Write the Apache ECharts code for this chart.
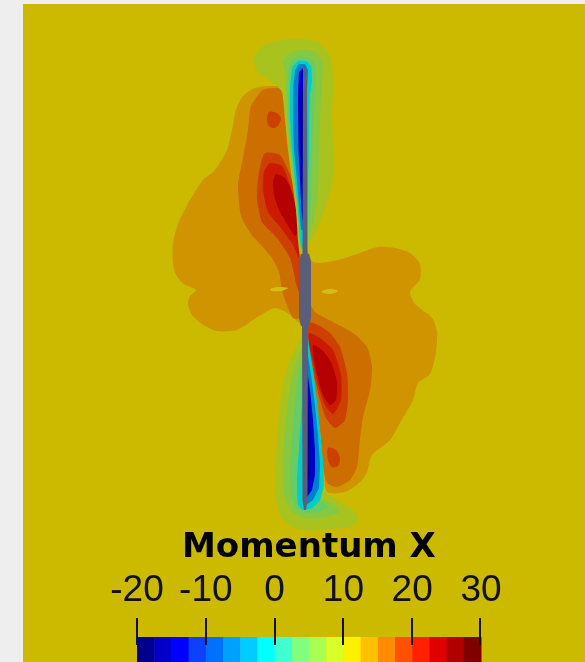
<!DOCTYPE html>
<html><head><meta charset="utf-8">
<script src="https://cdn.jsdelivr.net/npm/echarts@6/dist/echarts.min.js"></script>
<style>html,body{margin:0;padding:0;background:#eeeeee;}#c{width:585px;height:662px;}</style>
</head><body><div id="c"></div>
<script>
// ---- colour bar data ----
const barTitle = 'Momentum X';
const barTicks = [-20, -10, 0, 10, 20, 30];
const barEdges = [-20,-17.5,-15,-12.5,-10,-7.5,-5,-2.5,0,2.5,5,7.5,10,12.5,15,17.5,20,22.5,25,27.5,30];
const barColors = ['#00008c','#0000c8','#0000ff','#1040ff','#0070ff','#00a0ff','#00ccff','#00ffff','#40ffd0','#80ff80',
                   '#a8ff50','#d8ff28','#fff000','#ffc000','#ff8c00','#ff5000','#ff2000','#e00000','#b00000','#800000'];
// shaded field colour for each band index (1..20) + blade
const fieldColors = {1:'#000070',2:'#0000a0',3:'#0000cc',6:'#0080cc',8:'#00cccc',10:'#66cc66',11:'#86c840',12:'#a9c31e',
                     13:'#cbba00',14:'#cf9400',15:'#cc6e00',16:'#cc4000',17:'#cc1a00',18:'#b40000',blade:'#5a5e78',slit:'#d3be12'};

// ---- contour outlines (field domain units) ----
const lvl14Lobes = [[283,88],[270,86],[255,88],[243,96],[236,110],[232,130],[227,150],[215,170],[203,180],[195,192],[186,207],[178,224],[173,243],[173,263],[176,275],[184,284],[196,290],[190,296],[188,304],[192,315],[202,324],[217,331],[237,330],[256,318],[275,308],[289,314],[298,322],[306,330],[308,345],[314,390],[320,430],[324,470],[327,492],[345,492],[360,482],[367,472],[372,455],[390,440],[401,421],[413,400],[418,383],[430,374],[436,352],[437,332],[432,318],[415,304],[410,292],[420,279],[420,264],[410,253],[395,248],[378,247],[360,253],[345,258],[328,262],[313,262],[307,250],[300,250],[298,200],[293,150],[288,110]];
const lvl15Upper = [[263,90],[281,89],[287,110],[292,150],[296,200],[299,240],[300,262],[299,318],[293,318],[287,305],[282,290],[279,272],[272,258],[262,246],[251,234],[241,216],[238,185],[243,158],[248,130],[251,106]];
const lvl15Lower = [[306,298],[315,312],[333,322],[353,333],[367,347],[372,367],[370,390],[363,417],[360,440],[357,467],[350,480],[337,487],[327,483],[323,467],[320,430],[315,400],[310,370],[307,340]];
const lvl16Upper = [[265,153],[280,155],[290,175],[297,200],[299,230],[300,262],[299,292],[296,283],[290,258],[277,238],[262,222],[257,198],[259,172]];
const lvl16BlobUpper = [[269,112],[277,113],[281,118],[279,124],[275,128],[270,127],[267,121]];
const lvl16Lower = [[307,322],[318,325],[330,333],[340,347],[347,373],[348,397],[345,420],[335,428],[326,418],[320,400],[315,380],[310,355],[307,340]];
const lvl16BlobLower = [[328,448],[336,450],[340,458],[338,466],[332,467],[328,460]];
const lvl17Upper = [[270,163],[282,166],[290,185],[296,210],[299,240],[299,258],[293,245],[281,228],[268,212],[263,190],[264,172]];
const lvl17Lower = [[309,333],[320,338],[333,350],[341,375],[341,400],[333,414],[325,405],[318,385],[313,362],[309,345]];
const lvl18Upper = [[276,174],[285,178],[292,192],[296,210],[298,232],[295,236],[287,224],[279,210],[274,195],[273,182]];
const lvl18Lower = [[313,345],[322,350],[331,362],[337,382],[336,400],[330,405],[323,395],[318,378],[314,360]];

const lvl12Upper = [[256,70],[254,58],[260,48],[272,42],[288,39],[304,39],[318,43],[327,51],[332,63],[333,85],[332,115],[333,145],[334,168],[330,192],[324,212],[317,229],[311,241],[306,249],[303,252],[300,255],[298,240],[296,210],[292,180],[288,150],[285,120],[282,92],[275,84],[265,77]];
const lvl11Upper = [[283,60],[292,52],[305,49],[317,53],[323,62],[322,85],[320,120],[319,160],[318,195],[314,220],[309,237],[305,246],[300,250],[298,225],[294,190],[290,155],[287,120],[286,90],[285,72]];
const lvl10Upper = [[289,64],[296,57],[307,57],[314,62],[316,72],[315,95],[313,130],[312,170],[311,200],[308,225],[305,242],[301,245],[299,220],[295,185],[291,150],[288,118],[288,90]];
const lvl8Upper = [[292,68],[298,61],[306,61],[311,66],[312,80],[310,95],[309,140],[308,190],[307,215],[305,235],[302,250],[300,240],[298,210],[295,180],[292,150],[290,120],[290,90]];
const lvl6Upper = [[295,70],[299,64],[305,64],[308,70],[307,90],[303,110],[303,230],[301,230],[299,205],[297,180],[294,150],[293,120],[293,90]];
const lvl3Upper = [[299,72],[303,68],[306,70],[305,80],[303,90],[303,222],[301.5,210],[300,180],[298.5,150],[298,120],[298,90]];
const lvl2Upper = [[300.5,95],[303,90],[303,195],[301.5,180],[300.5,150]];

const lvl12Lower = [[303,335],[297,345],[289,362],[283,385],[279,415],[277,445],[275,475],[276,500],[281,517],[292,527],[310,531],[330,529],[350,527],[358,522],[355,512],[345,505],[333,497],[325,492],[322,470],[318,430],[312,390],[308,350]];
const lvl11Lower = [[303,345],[297,360],[291,380],[287,410],[284,440],[283,470],[284,495],[290,510],[300,517],[315,519],[330,516],[340,512],[334,505],[325,500],[318,495],[315,470],[313,440],[310,400],[307,360]];
const lvl10Lower = [[303,355],[299,375],[295,405],[292,440],[290,470],[291,495],[296,508],[305,513],[318,512],[328,507],[320,500],[317,480],[315,450],[312,420],[309,390],[306,365]];
const lvl8Lower = [[307,330],[309,345],[313,370],[317,400],[320,430],[323,460],[324,485],[320,500],[312,508],[303,510],[298,505],[297,480],[299,450],[301,420],[303,380]];
const lvl6Lower = [[307,350],[311,375],[315,405],[318,435],[320,465],[319,488],[313,500],[306,505],[303,505],[303,350]];
const lvl3Lower = [[307,370],[310,390],[313,420],[315,450],[315,475],[312,490],[307,497],[303,497],[303,370]];
const lvl2Lower = [[307,400],[310,420],[311,450],[310,475],[307,485]];

const bladeUpper = [[303,67],[306,67],[307,80],[307.5,254],[302.5,254],[303,80]];
const hub = [[299,262],[301,254],[309,254],[311,262],[311,318],[309,326],[301,326],[299,318]];
const bladeLower = [[302,325],[308,325],[307.5,500],[306,510],[304,510],[302.5,500]];
const slitLeft = [[270,289],[278,287],[288,288],[281,291],[272,291]];
const slitRight = [[322,291],[330,289],[338,291],[331,294],[323,293]];

// draw order (key, outline, smoothing)
const contours = [
  [14, lvl14Lobes, 0.25],
  [15, lvl15Upper, 0.2], [15, lvl15Lower, 0.2],
  [16, lvl16Upper, 0.2], [16, lvl16BlobUpper, 0.3], [16, lvl16Lower, 0.2], [16, lvl16BlobLower, 0.3],
  [17, lvl17Upper, 0.2], [17, lvl17Lower, 0.2],
  [18, lvl18Upper, 0.2], [18, lvl18Lower, 0.2],
  [12, lvl12Upper, 0.2], [11, lvl11Upper, 0.15], [10, lvl10Upper, 0.1], [8, lvl8Upper, 0.1], [6, lvl6Upper, 0], [3, lvl3Upper, 0], [2, lvl2Upper, 0],
  [12, lvl12Lower, 0.2], [11, lvl11Lower, 0.15], [10, lvl10Lower, 0.1], [8, lvl8Lower, 0.1], [6, lvl6Lower, 0], [3, lvl3Lower, 0], [2, lvl2Lower, 0],
  ['slit', slitLeft, 0.3], ['slit', slitRight, 0.3],
  ['blade', bladeUpper, 0], ['blade', hub, 0], ['blade', bladeLower, 0]
];

const chart = echarts.init(document.getElementById('c'), null, {renderer: 'canvas'});
chart.setOption({
  backgroundColor: '#eeeeee',
  animation: false,
  title: {
    text: barTitle, left: 177, top: 526,
    textStyle: {fontFamily: 'DejaVu Sans', fontWeight: 'bold', fontSize: 34, color: '#000'}
  },
  grid: [
    {left: 23, top: 4, right: 0, bottom: 0, show: true, backgroundColor: fieldColors[13], borderWidth: 0, containLabel: false},
    {left: 137, top: 617, width: 344, height: 45, containLabel: false}
  ],
  xAxis: [
    {gridIndex: 0, type: 'value', min: 23, max: 585, show: false},
    {gridIndex: 1, type: 'value', min: -20, max: 30, interval: 10, position: 'top',
     axisLine: {show: false, onZero: false}, splitLine: {show: false},
     axisTick: {show: false},
     axisLabel: {margin: 8, fontSize: 37, fontFamily: 'Liberation Sans', color: '#111',
                 formatter: v => barTicks.includes(v) ? String(v) : ''}}
  ],
  yAxis: [
    {gridIndex: 0, type: 'value', min: 4, max: 662, inverse: true, show: false},
    {gridIndex: 1, type: 'value', min: 0, max: 1, show: false}
  ],
  series: [
    {
      type: 'custom', xAxisIndex: 0, yAxisIndex: 0, clip: true,
      data: contours.map((c, i) => [i, 0]),
      renderItem: function (params, api) {
        const c = contours[api.value(0)];
        const pts = c[1].map(p => api.coord(p));
        return {type: 'polygon', shape: {points: pts, smooth: c[2]}, style: {fill: fieldColors[c[0]]}};
      }
    },
    {
      type: 'custom', xAxisIndex: 1, yAxisIndex: 1, z: 2,
      data: barColors.map((col, i) => [barEdges[i], barEdges[i + 1], i]),
      encode: {x: [0, 1]},
      renderItem: function (params, api) {
        const a = api.coord([api.value(0), 0]);
        const b = api.coord([api.value(1), 0]);
        return {type: 'rect', shape: {x: a[0], y: a[1] - 25, width: b[0] - a[0] + 0.5, height: 25},
                style: {fill: barColors[api.value(2)]}};
      }
    },
    {
      type: 'custom', xAxisIndex: 1, yAxisIndex: 1, z: 5,
      data: barTicks.map(t => [t, 1]),
      encode: {x: 0},
      renderItem: function (params, api) {
        const a = api.coord([api.value(0), 1]);
        const x = Math.round(a[0]) + (api.value(0) === 30 ? -1 : 0);
        return {type: 'line', shape: {x1: x, y1: a[1] + 1, x2: x, y2: a[1] + 28},
                style: {stroke: '#111', lineWidth: 2}};
      }
    }
  ]
});
</script></body></html>
